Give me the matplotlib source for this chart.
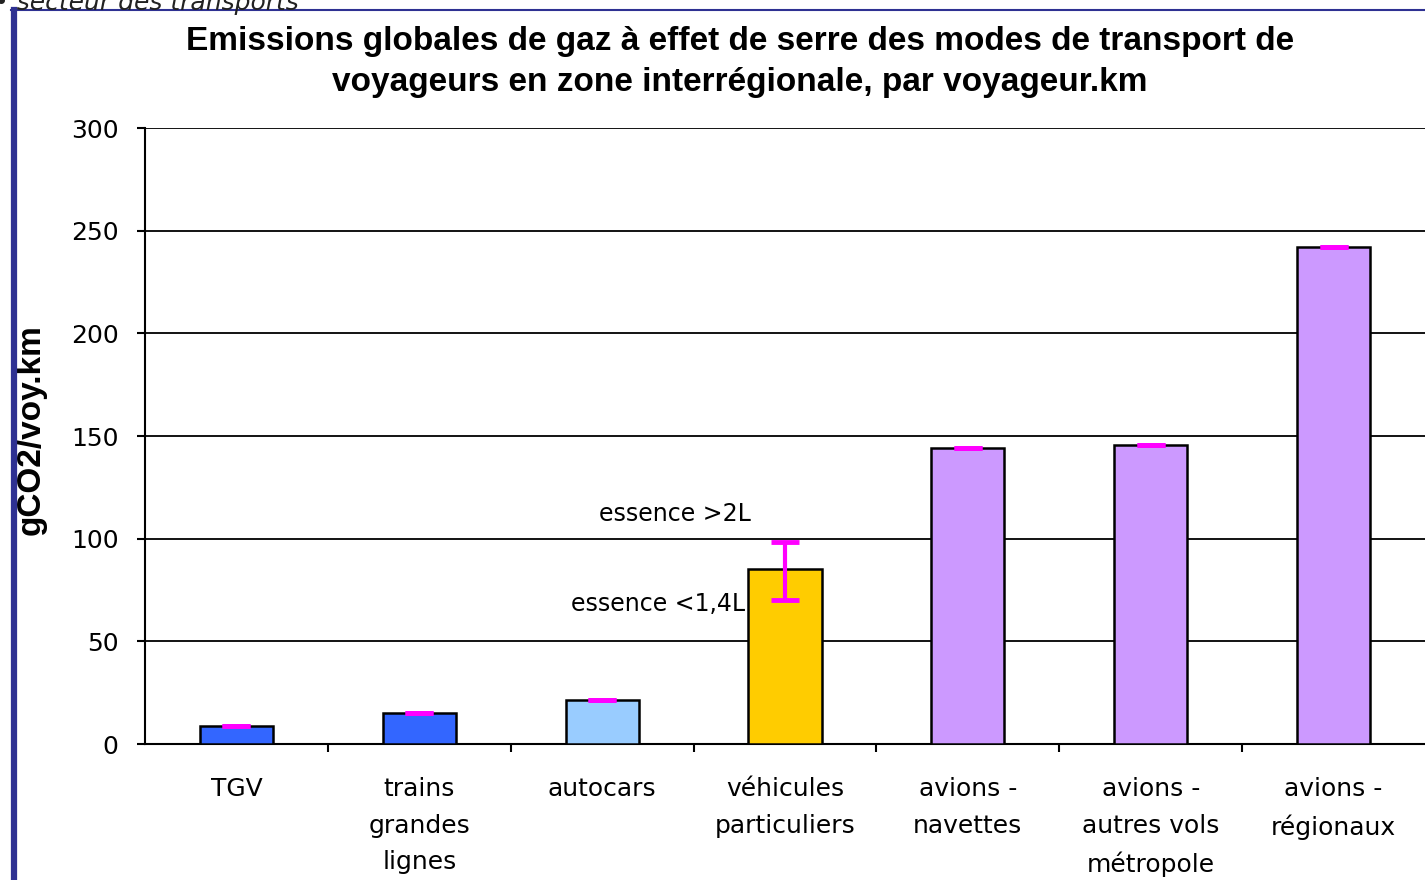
import numpy as np
import matplotlib
matplotlib.use("Agg")
import matplotlib.pyplot as plt
from matplotlib.lines import Line2D

# -- Data ---------------------------------------------------------------
categories = ["TGV", "trains\ngrandes\nlignes", "autocars", "véhicules\nparticuliers",
              "avions -\nnavettes", "avions -\nautres vols\nmétropole", "avions -\nrégionaux"]
values = [9, 15, 21.5, 85, 144, 145.5, 242]
err_low = [0, 0, 0, 15, 0, 0, 0]
err_high = [0, 0, 0, 13.5, 0, 0, 0]
bar_colors = ["#3366ff", "#3366ff", "#99ccff", "#ffcc00", "#cc99ff", "#cc99ff", "#cc99ff"]
y_ticks = [0, 50, 100, 150, 200, 250, 300]

title = ("Emissions globales de gaz à effet de serre des modes de transport de\n"
         "voyageurs en zone interrégionale, par voyageur.km")

fig = plt.figure(figsize=(14.25, 8.8), dpi=100)
ax = fig.add_axes([145 / 1425, 1 - 744 / 880, 1 - 145 / 1425, (744 - 128) / 880])

x = np.arange(len(categories))
ax.bar(x, values, width=0.40, color=bar_colors, edgecolor="black", linewidth=1.8, zorder=3)
ax.errorbar(x, values, yerr=[err_low, err_high], fmt="none", ecolor="#ff00ff",
            elinewidth=3, capsize=10, capthick=3.5, zorder=4)

ax.set_xlim(-0.5, len(categories) - 0.5)
ax.set_ylim(0, 300)
ax.set_yticks(y_ticks)
ax.set_yticklabels([str(t) for t in y_ticks], fontsize=18, family="DejaVu Sans")
for t in y_ticks[1:]:
    ax.axhline(t, color="black", lw=1.3, zorder=1)

ax.set_xticks(x)
ax.set_xticklabels(categories, fontsize=18, family="DejaVu Sans", linespacing=1.65, va="top")
ax.set_xticks(x[:-1] + 0.5, minor=True)
ax.tick_params(axis="x", which="major", length=0, pad=24)
ax.tick_params(axis="x", which="minor", length=6, width=1.5, direction="out")
ax.tick_params(axis="y", length=6, width=1.5, direction="out", pad=13)

for side in ["top", "right"]:
    ax.spines[side].set_visible(False)
ax.spines["left"].set_linewidth(1.5)
ax.spines["bottom"].set_linewidth(1.5)
ax.set_facecolor("white")

ax.set_ylabel("gCO2/voy.km", fontsize=24, fontweight="bold", family="Liberation Sans")
ax.yaxis.set_label_coords(-0.077, 0.51)

# annotations for the car range
ax.text(3 - 0.6, 112, "essence >2L", fontsize=17, ha="center", va="center", family="DejaVu Sans")
ax.text(3 - 0.22, 68, "essence <1,4L", fontsize=17, ha="right", va="center", family="DejaVu Sans")

fig.text(740 / 1425, 1 - 62 / 880, title, ha="center", va="center", fontsize=24,
         fontweight="bold", family="Liberation Sans", linespacing=1.45)

# cropped heading and frame of the page
fig.text(-0.004, 1 - 10 / 880, "• secteur des transports", fontsize=18, style="italic",
         family="DejaVu Sans", color="#222222", va="baseline")
fig.add_artist(Line2D([14 / 1425, 14 / 1425], [0, 1 - 10 / 880], transform=fig.transFigure,
                      color="#2e3192", lw=4.5))
fig.add_artist(Line2D([11 / 1425, 1], [1 - 10 / 880, 1 - 10 / 880], transform=fig.transFigure,
                      color="#2e3192", lw=1.5))

fig.savefig("out.png", dpi=100)
